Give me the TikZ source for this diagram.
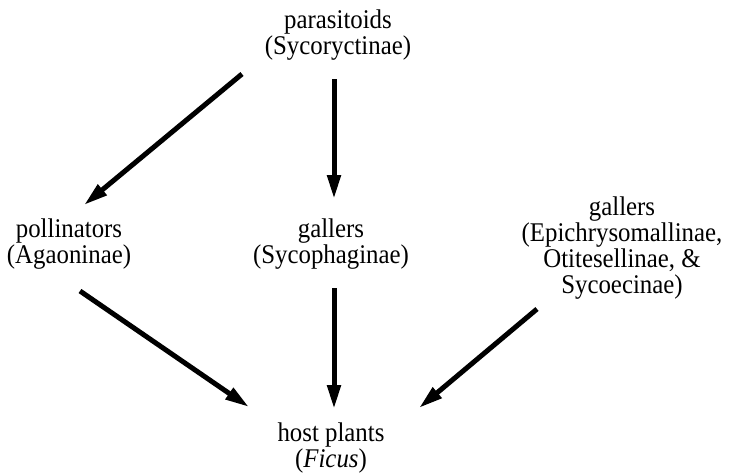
\documentclass[tikz,border=0pt]{standalone}
\usepackage{fontspec}
\setmainfont[FakeStretch=0.92]{Liberation Serif}
\usetikzlibrary{arrows.meta,calc}

\begin{document}
\begin{tikzpicture}
  [
    x=1pt, y=-1pt,
    taxon/.style =
      {align=center, inner sep=0pt, font=\fontsize{27}{26}\selectfont},
    link/.style =
      {-{Triangle[length=24pt, width=13pt]}, line width=5pt}
  ]

\useasboundingbox (0,0) rectangle (732,475);

\node[taxon] (par)  at (338,35)  {parasitoids\\(Sycoryctinae)};
\node[taxon] (pol)  at (69,244)  {pollinators\\(Agaoninae)};
\node[taxon] (syc)  at (331,244) {gallers\\(Sycophaginae)};
\node[taxon] (epi)  at (622,248) {gallers\\(Epichrysomallinae,\\Otitesellinae, \&\\Sycoecinae)};
\node[taxon] (host) at (331,448) {host plants\\(\textit{Ficus})};

\draw [link] ($(par)+(-96,39)$) -- ($(pol)+(15,-39)$);
\draw [link] ($(par)+(-4,44)$)  -- ($(syc)+(3,-45)$);
\draw [link] ($(pol)+(11,47)$)  -- ($(host)+(-82,-41)$);
\draw [link] ($(syc)+(3,44)$)   -- ($(host)+(3,-39)$);
\draw [link] ($(epi)+(-85,61)$) -- ($(host)+(88,-40)$);

\end{tikzpicture}
\end{document}
